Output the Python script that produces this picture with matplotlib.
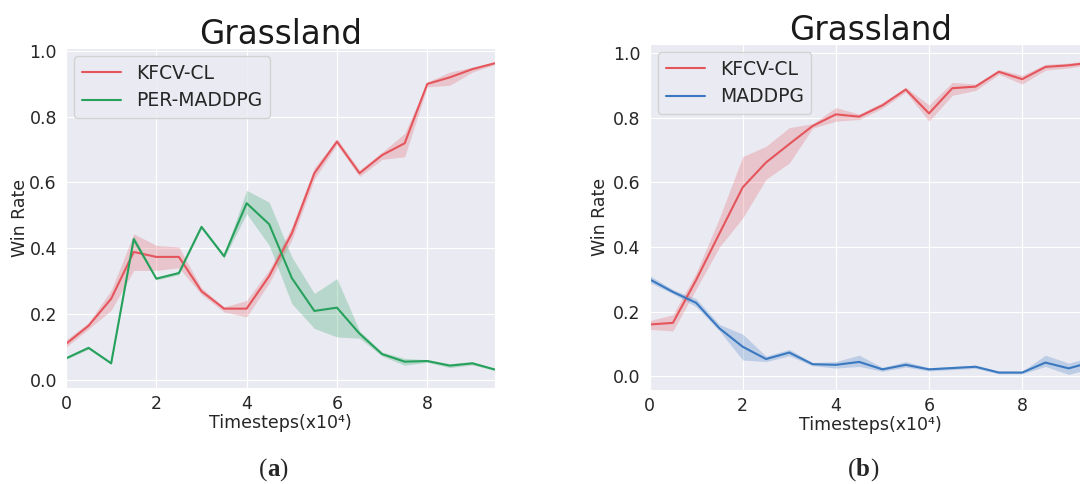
import matplotlib
matplotlib.use("Agg")
import matplotlib.pyplot as plt
import seaborn as sns
import numpy as np

sns.set_style("darkgrid")
plt.rcParams['font.family'] = ['DejaVu Sans']

# ---------------- data ----------------
timesteps = [0, 0.5, 1, 1.5, 2, 2.5, 3, 3.5, 4, 4.5, 5, 5.5, 6, 6.5, 7, 7.5, 8, 8.5, 9, 9.5]

# panel (a)
a_kfcv_mean = [0.110, 0.165, 0.247, 0.389, 0.374, 0.374, 0.270, 0.217, 0.217, 0.316, 0.445,
               0.628, 0.724, 0.628, 0.683, 0.719, 0.899, 0.919, 0.944, 0.962]
a_kfcv_low = [0.100, 0.155, 0.212, 0.333, 0.333, 0.341, 0.260, 0.207, 0.192, 0.295, 0.425,
              0.610, 0.715, 0.618, 0.670, 0.678, 0.890, 0.895, 0.935, 0.958]
a_kfcv_high = [0.122, 0.175, 0.273, 0.444, 0.409, 0.404, 0.280, 0.222, 0.242, 0.335, 0.465,
               0.645, 0.733, 0.638, 0.692, 0.749, 0.905, 0.935, 0.950, 0.966]

a_per_mean = [0.066, 0.098, 0.051, 0.428, 0.308, 0.325, 0.465, 0.376, 0.537, 0.473, 0.310,
              0.210, 0.220, 0.141, 0.079, 0.056, 0.058, 0.044, 0.051, 0.032]
a_per_low = [0.063, 0.094, 0.048, 0.418, 0.304, 0.320, 0.460, 0.370, 0.505, 0.409, 0.232,
             0.157, 0.131, 0.127, 0.073, 0.045, 0.054, 0.038, 0.046, 0.029]
a_per_high = [0.069, 0.102, 0.054, 0.438, 0.312, 0.330, 0.470, 0.382, 0.576, 0.540, 0.374,
              0.263, 0.308, 0.150, 0.085, 0.066, 0.062, 0.050, 0.056, 0.035]

# panel (b)
b_kfcv_mean = [0.160, 0.165, 0.298, 0.442, 0.585, 0.662, 0.719, 0.775, 0.811, 0.804, 0.839,
               0.888, 0.814, 0.892, 0.897, 0.943, 0.920, 0.958, 0.963, 0.972]
b_kfcv_low = [0.145, 0.140, 0.270, 0.400, 0.490, 0.610, 0.660, 0.768, 0.790, 0.795, 0.830,
              0.880, 0.790, 0.870, 0.885, 0.935, 0.905, 0.948, 0.955, 0.965]
b_kfcv_high = [0.172, 0.190, 0.320, 0.490, 0.680, 0.712, 0.770, 0.782, 0.832, 0.812, 0.848,
               0.895, 0.840, 0.910, 0.905, 0.950, 0.932, 0.966, 0.970, 0.978]

b_maddpg_mean = [0.300, 0.261, 0.227, 0.148, 0.091, 0.053, 0.073, 0.037, 0.035, 0.044, 0.021,
                 0.035, 0.021, 0.025, 0.029, 0.011, 0.011, 0.042, 0.024, 0.044]
b_maddpg_low = [0.290, 0.255, 0.215, 0.140, 0.050, 0.045, 0.063, 0.032, 0.025, 0.030, 0.015,
                0.028, 0.016, 0.020, 0.024, 0.007, 0.007, 0.030, 0.005, 0.025]
b_maddpg_high = [0.312, 0.268, 0.240, 0.160, 0.130, 0.062, 0.083, 0.042, 0.045, 0.065, 0.027,
                 0.045, 0.026, 0.030, 0.034, 0.016, 0.015, 0.065, 0.040, 0.060]

title_text = "Grassland"
xlabel_text = "Timesteps(x10\u2074)"
ylabel_text = "Win Rate"
yticks = [0.0, 0.2, 0.4, 0.6, 0.8, 1.0]
xticks = [0, 2, 4, 6, 8]

RED = "#e5555c"
GREEN = "#26a15c"
BLUE = "#3a78c0"

W, H = 1080, 484
fig = plt.figure(figsize=(W / 100, H / 100), dpi=100)
fig.patch.set_facecolor("white")

ax1 = fig.add_axes([66 / W, (H - 387.7) / H, (495 - 66) / W, (387.7 - 47.7) / H])
ax2 = fig.add_axes([649.6 / W, (H - 390) / H, (1092 - 649.6) / W, (390 - 44) / H])


def draw(ax, series, ylim, ylabelpad):
    for mean, low, high, color, label in series:
        ax.fill_between(timesteps, low, high, color=color, alpha=0.25, linewidth=0)
        ax.plot(timesteps, mean, color=color, lw=1.5, label=label)
    ax.set_xlim(0, 9.5)
    ax.set_ylim(*ylim)
    ax.set_xticks(xticks)
    ax.set_yticks(yticks)
    ax.set_yticklabels([f"{v:.1f}" for v in yticks])
    ax.tick_params(axis="both", length=0, labelsize=12.5, colors="#262626")
    ax.tick_params(axis="x", pad=5)
    ax.tick_params(axis="y", pad=6.5)
    ax.set_xlabel(xlabel_text, fontsize=12.5, color="#262626", labelpad=1)
    ax.set_ylabel(ylabel_text, fontsize=12.5, color="#262626", labelpad=ylabelpad)
    ax.set_title(title_text, fontsize=23.5, color="#1a1a1a", pad=3)
    ax.legend(loc="upper left", fontsize=13.5, handlelength=2.1, handletextpad=0.8,
              borderaxespad=0.45, labelspacing=0.45)


draw(ax1, [(a_kfcv_mean, a_kfcv_low, a_kfcv_high, RED, "KFCV-CL"),
           (a_per_mean, a_per_low, a_per_high, GREEN, "PER-MADDPG")], (-0.023, 1.009), 0.5)
draw(ax2, [(b_kfcv_mean, b_kfcv_low, b_kfcv_high, RED, "KFCV-CL"),
           (b_maddpg_mean, b_maddpg_low, b_maddpg_high, BLUE, "MADDPG")], (-0.043, 1.029), 3)


def subcaption(x, letter):
    serif = ["Liberation Serif", "DejaVu Serif"]
    t1 = fig.text(x, (H - 470) / H, "(", fontsize=18, family=serif, ha="right", va="center")
    t2 = fig.text(x, (H - 470) / H, letter, fontsize=18, family=serif, fontweight="bold",
                  ha="left", va="center")
    t3 = plt.annotate(")", xy=(1, 0), xycoords=t2, fontsize=18, family=serif,
                      ha="left", va="bottom", annotation_clip=False)
    return t1, t2, t3


subcaption(267 / W, "a")
subcaption(856 / W, "b")

fig.savefig("out.png", dpi=100)
